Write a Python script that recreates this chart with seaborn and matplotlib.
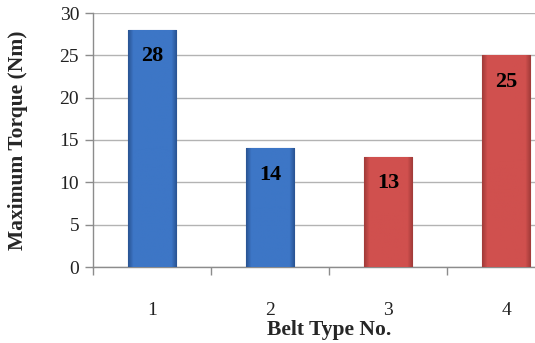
import matplotlib
matplotlib.use("Agg")
import matplotlib.pyplot as plt
import matplotlib.colors as mcolors
import seaborn as sns
import numpy as np
import pandas as pd

# Data
belt_types = ["1", "2", "3", "4"]
max_torque = [28, 14, 13, 25]
groups = ["blue", "blue", "red", "red"]

bar_colors = {"blue": "#3d76c6", "red": "#d0504e"}
edge_colors = {"blue": "#2a5595", "red": "#a33c3a"}

df = pd.DataFrame({"belt": belt_types, "torque": max_torque, "group": groups})

sns.set_style("white")
plt.rcParams["font.family"] = ["Liberation Serif", "DejaVu Serif"]

fig = plt.figure(figsize=(5.35, 3.43), dpi=100)
ax = fig.add_axes([93 / 535, 1 - 267 / 343, 472 / 535, 254 / 343])

sns.barplot(data=df, x="belt", y="torque", hue="group", palette=bar_colors,
            saturation=1, dodge=False, width=0.415, legend=False, ax=ax, zorder=3)

# give the bars a bevelled look: dark edges, flat middle
prof = np.concatenate([np.linspace(0, 1, 6), np.ones(36), np.linspace(1, 0, 6)])
for patch, g in zip(ax.patches, groups):
    patch.set_edgecolor(edge_colors[g])
    patch.set_linewidth(0.8)
    cmap = mcolors.LinearSegmentedColormap.from_list("b", [edge_colors[g], bar_colors[g]])
    x0, y0 = patch.get_x(), patch.get_y()
    w, h = patch.get_width(), patch.get_height()
    im = ax.imshow(prof[np.newaxis, :], cmap=cmap, aspect="auto",
                   extent=[x0, x0 + w, y0, y0 + h], zorder=3.5)
    im.set_clip_path(patch)

# value labels inside the bars, near the top
for i, v in enumerate(max_torque):
    ax.annotate(str(v), (i, v), xytext=(0, -19), textcoords="offset points",
                ha="center", va="center", fontsize=16, fontweight="bold",
                color="black", zorder=5)

ax.set_ylim(0, 30)
ax.set_yticks(range(0, 31, 5))
ax.set_xlim(-0.5, 3.5)
ax.yaxis.grid(True, color="#b3b3b3", linewidth=1)
ax.set_axisbelow(True)

# category separators as major ticks, labels on minor ticks
ax.set_xticks([-0.5, 0.5, 1.5, 2.5, 3.5])
ax.set_xticklabels([])
ax.set_xticks(range(4), minor=True)
ax.set_xticklabels(belt_types, minor=True)
ax.tick_params(axis="x", which="major", length=6, color="#8c8c8c", width=1, direction="out", bottom=True)
ax.tick_params(axis="x", which="minor", length=0, pad=25, labelsize=14, labelcolor="#222222")
ax.tick_params(axis="y", length=6, color="#8c8c8c", width=1, direction="out", left=True,
               labelsize=14, labelcolor="#222222", pad=4)

for side in ["top", "right"]:
    ax.spines[side].set_visible(False)
for side in ["left", "bottom"]:
    ax.spines[side].set_color("#8c8c8c")
    ax.spines[side].set_linewidth(1)

ax.set_xlabel("Belt Type No.", fontsize=15.5, fontweight="bold")
ax.set_ylabel("Maximum Torque (Nm)", fontsize=15.5, fontweight="bold")
ax.xaxis.label.set_va("center")
ax.yaxis.label.set_va("center")
ax.xaxis.set_label_coords(0.5, -(330 - 267) / 254)
ax.yaxis.set_label_coords((18 - 93) / 472, 0.5)

fig.savefig("out.png", dpi=100)
